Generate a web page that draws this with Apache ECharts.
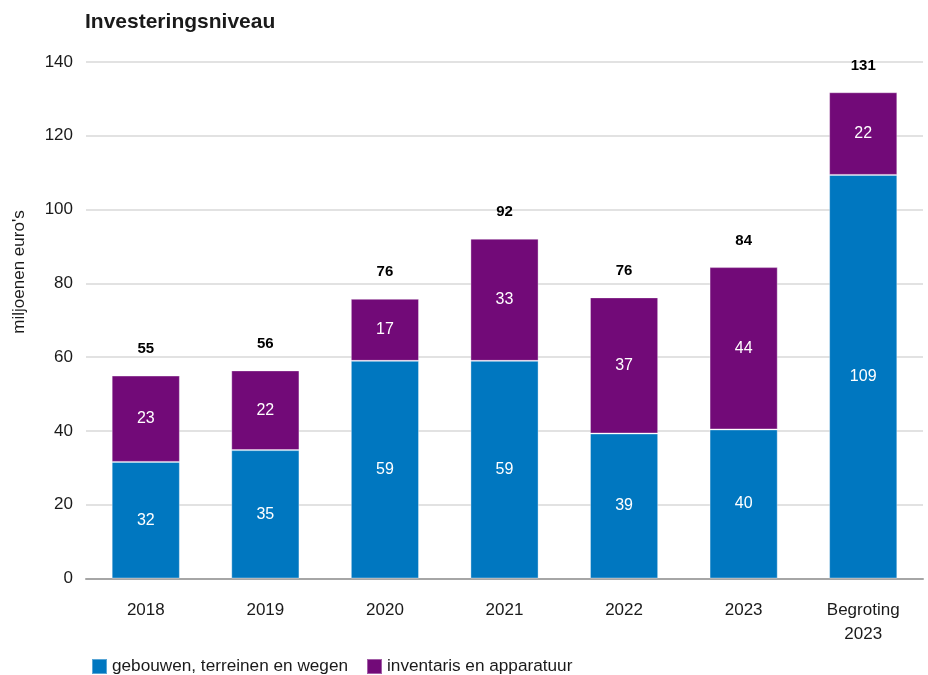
<!DOCTYPE html>
<html>
<head>
<meta charset="utf-8">
<script src="https://cdn.jsdelivr.net/npm/echarts@6/dist/echarts.min.js"></script>
<style>
  html, body { margin: 0; padding: 0; background: #fff; }
  #chart { width: 928px; height: 675px; }
</style>
</head>
<body>
<div id="chart"></div>
<script>
const categories = ['2018', '2019', '2020', '2021', '2022', '2023', 'Begroting\n2023']
const gebouwen = [31.6, 34.8, 59.0, 59.0, 39.3, 40.4, 109.4]
const inventaris = [23.4, 21.6, 16.8, 33.1, 36.9, 44.0, 22.4]
const totals = [55, 56, 76, 92, 76, 84, 131]
const yTicks = [0, 20, 40, 60, 80, 100, 120, 140]

const font = 'Liberation Sans, Arial, sans-serif'
const textColor = '#1a1a1a'

const chart = echarts.init(document.getElementById('chart'))

const segLabel = {
  show: true,
  position: 'inside',
  color: '#fff',
  fontSize: 16,
  fontFamily: font,
  formatter: p => Math.round(p.value)
}

chart.setOption({
  animation: false,
  title: {
    text: 'Investeringsniveau',
    left: 80,
    top: 7,
    textStyle: { fontSize: 21, fontWeight: 'bold', color: textColor, fontFamily: font }
  },
  grid: { left: 86, right: 5, top: 62, bottom: 96.5 },
  legend: {
    data: ['gebouwen, terreinen en wegen', 'inventaris en apparatuur'],
    left: 86,
    top: 653,
    icon: 'rect',
    itemWidth: 15,
    itemHeight: 15,
    itemGap: 18,
    textStyle: { fontSize: 17.2, color: textColor, fontFamily: font, padding: [0, 0, 0, 0] }
  },
  graphic: [{
    type: 'text',
    x: 19,
    y: 272,
    rotation: Math.PI / 2,
    style: {
      text: "miljoenen euro's",
      fontSize: 17,
      fontFamily: font,
      fill: textColor,
      align: 'center',
      verticalAlign: 'middle'
    }
  }],
  xAxis: {
    type: 'category',
    data: categories,
    axisTick: { show: false },
    axisLine: { lineStyle: { color: '#a6a6a6', width: 2 } },
    axisLabel: { color: textColor, fontSize: 17, fontFamily: font, margin: 20, lineHeight: 24 }
  },
  yAxis: {
    type: 'value',
    min: yTicks[0],
    max: yTicks[yTicks.length - 1],
    interval: 20,
    axisLine: { show: false },
    axisTick: { show: false },
    splitLine: { lineStyle: { color: '#d9d9d9', width: 1.5 } },
    axisLabel: { color: textColor, fontSize: 17, fontFamily: font, margin: 13 }
  },
  series: [
    {
      name: 'gebouwen, terreinen en wegen',
      type: 'bar',
      stack: 'total',
      barWidth: '57%',
      data: gebouwen,
      itemStyle: { color: '#0077c0', borderColor: 'rgba(255,255,255,0.35)', borderWidth: 1 },
      label: segLabel
    },
    {
      name: 'inventaris en apparatuur',
      type: 'bar',
      stack: 'total',
      data: inventaris,
      itemStyle: { color: '#720a78', borderColor: 'rgba(255,255,255,0.35)', borderWidth: 1 },
      label: segLabel
    },
    {
      name: 'totaal',
      type: 'bar',
      stack: 'total',
      data: totals.map(() => 0),
      itemStyle: { color: 'transparent' },
      label: {
        show: true,
        position: 'top',
        distance: 19,
        color: '#000',
        fontSize: 15,
        fontWeight: 'bold',
        fontFamily: font,
        formatter: p => totals[p.dataIndex]
      }
    }
  ]
})
</script>
</body>
</html>
